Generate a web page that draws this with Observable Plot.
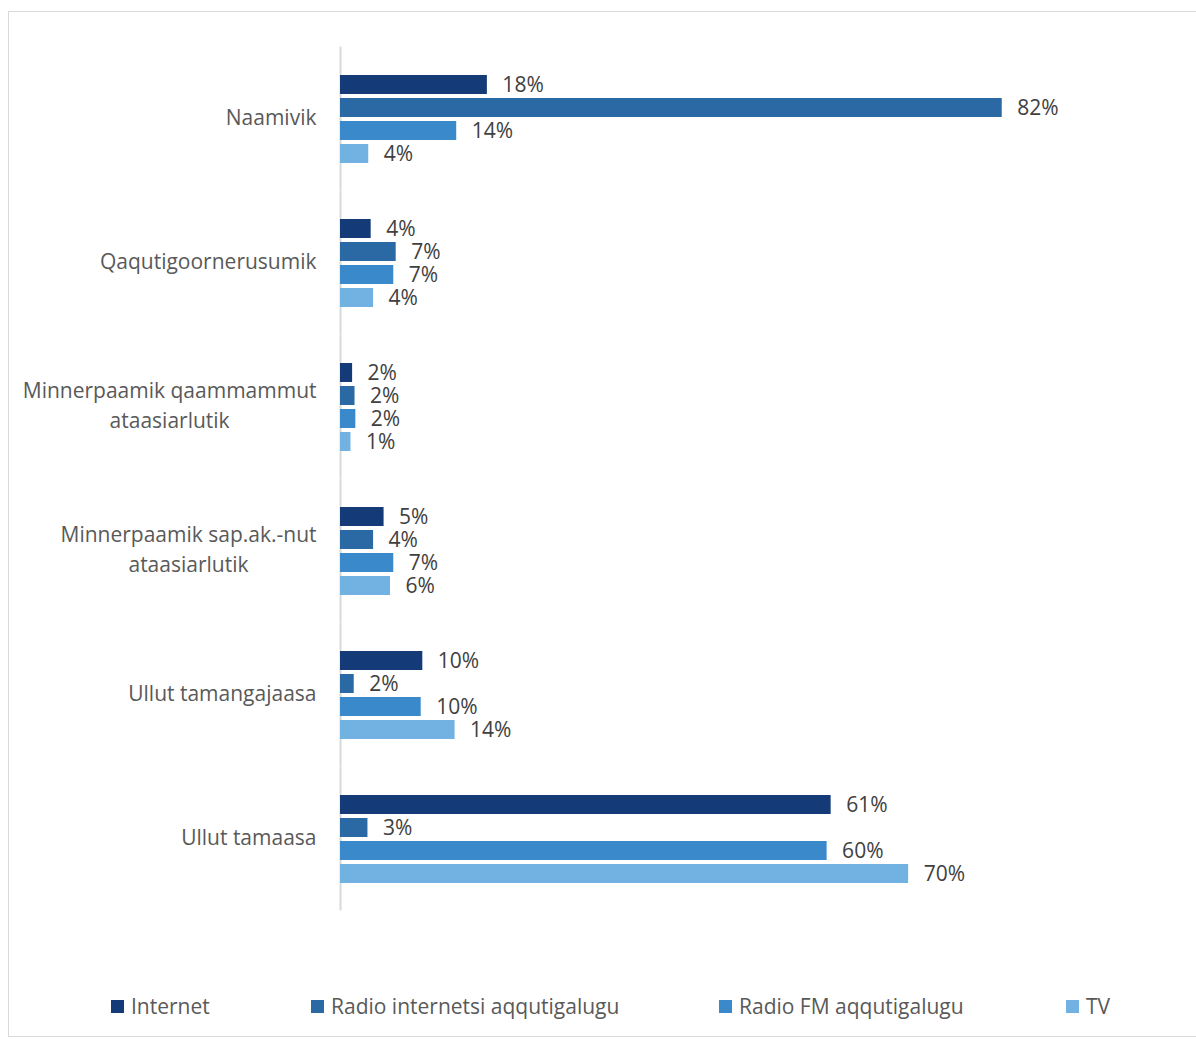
<!DOCTYPE html>
<html><head><meta charset="utf-8">
<script src="https://cdn.jsdelivr.net/npm/d3@7"></script>
<script src="https://cdn.jsdelivr.net/npm/@observablehq/plot@0.6"></script>
<style>
body{margin:0;background:#fff;font-family:"Open Sans",sans-serif;}
#frame{position:absolute;left:8px;top:11px;width:1200px;height:1026px;border:1px solid #d9d9d9;border-right:none;box-sizing:border-box;}
#chart{position:absolute;left:0;top:0;}
#legend{position:absolute;left:0;top:960px;width:1196px;height:79px;}
.item{position:absolute;top:33px;height:26px;display:flex;align-items:center;font-size:21px;color:#595959;white-space:nowrap;}
.sw{display:inline-block;width:13px;height:13px;margin-right:7px;}
</style></head><body>
<div id="frame"></div>
<div id="chart"></div>
<div id="legend"></div>
<script>
const categories = [
  "Naamivik",
  "Qaqutigoornerusumik",
  "Minnerpaamik qaammammut\nataasiarlutik",
  "Minnerpaamik sap.ak.-nut\nataasiarlutik",
  "Ullut tamangajaasa",
  "Ullut tamaasa"
];
const series = ["Internet", "Radio internetsi aqqutigalugu", "Radio FM aqqutigalugu", "TV"];
const internet      = [18.2, 3.8, 1.5, 5.4, 10.2, 60.8];
const radioInternet = [82.0, 6.9, 1.8, 4.1, 1.7, 3.4];
const radioFM       = [14.4, 6.6, 1.9, 6.6, 10.0, 60.3];
const tv            = [3.5, 4.1, 1.3, 6.2, 14.2, 70.4];
const colors = ["#143b77", "#2a69a3", "#3a89cb", "#72b2e2"];
const legendLeft = [111, 311, 719, 1066];

const seriesValues = [internet, radioInternet, radioFM, tv];
const rows = categories.flatMap((c, i) => series.map((s, j) => ({category: c, series: s, value: seriesValues[j][i]})));

const plot = Plot.plot({
  width: 1196, height: 960,
  marginTop: 44, marginBottom: 46, marginLeft: 340, marginRight: 49,
  style: {fontFamily: "Open Sans", fontSize: "21px", background: "transparent", overflow: "visible"},
  x: {domain: [0, 100], axis: null},
  y: {domain: series, axis: null, paddingInner: 0.174, paddingOuter: 0},
  fy: {domain: categories, paddingInner: 0.392, paddingOuter: 0.2, label: null},
  color: {domain: series, range: colors},
  marks: [
    Plot.ruleX([0], {stroke: "#d9d9d9", strokeWidth: 2, insetTop: -28.4, insetBottom: -27.4}),
    Plot.barX(rows, {x: "value", y: "series", fy: "category", fill: "series"}),
    Plot.text(rows, {x: "value", y: "series", fy: "category", text: d => Math.round(d.value) + "%", dx: 15, textAnchor: "start", fill: "#404040", fontSize: 21}),
    Plot.axisFy({anchor: "left", tickSize: 0, tickPadding: 24, dy: -4, fontSize: 21, fill: "#595959", lineHeight: 1.4, label: null})
  ]
});
document.getElementById("chart").append(plot);

// center multi-line category labels as a block, right-aligned to the tick
plot.querySelectorAll('g[aria-label="fy-axis tick label"] text').forEach(t => {
  const spans = t.querySelectorAll("tspan");
  if (spans.length < 2) return;
  let maxW = 0;
  spans.forEach(s => { maxW = Math.max(maxW, s.getComputedTextLength()); });
  t.setAttribute("text-anchor", "middle");
  const tr = t.getAttribute("transform") || "";
  t.setAttribute("transform", tr + ` translate(${-maxW / 2},0)`);
});

const legend = document.getElementById("legend");
series.forEach((s, i) => {
  const item = document.createElement("div");
  item.className = "item";
  item.style.left = legendLeft[i] + "px";
  const sw = document.createElement("span");
  sw.className = "sw";
  sw.style.background = colors[i];
  item.append(sw, document.createTextNode(s));
  legend.append(item);
});
</script>
</body></html>
